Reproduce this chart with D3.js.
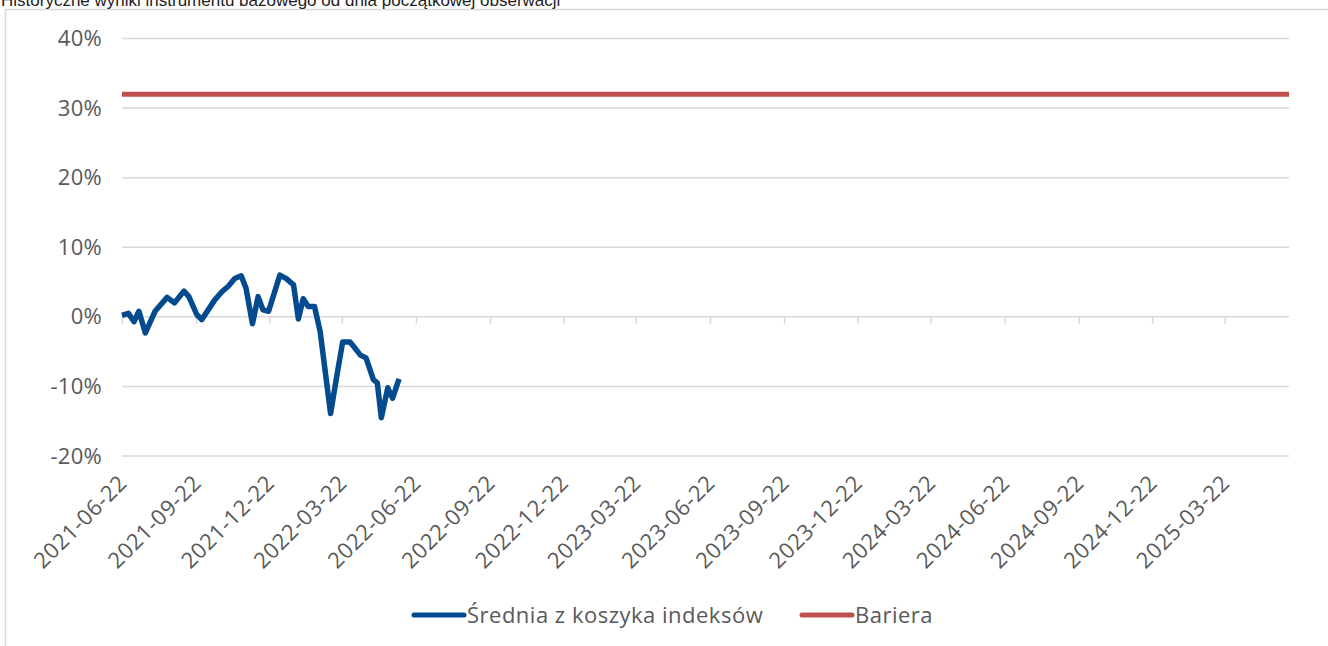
<!DOCTYPE html>
<html>
<head>
<meta charset="utf-8">
<script src="https://cdn.jsdelivr.net/npm/d3@7"></script>
<style>
  body { margin: 0; background: #fff; }
  svg { display: block; }
</style>
</head>
<body>
<div id="chart"></div>
<script>
// chart data
var title = "Historyczne wyniki instrumentu bazowego od dnia początkowej obserwacji";

var basketDates = [
  "2021-06-22", "2021-06-30", "2021-07-07", "2021-07-13", "2021-07-21", "2021-08-02",
  "2021-08-17", "2021-08-26", "2021-09-07", "2021-09-13", "2021-09-23", "2021-09-29",
  "2021-10-15", "2021-10-24", "2021-11-01", "2021-11-09", "2021-11-17", "2021-11-23",
  "2021-12-01", "2021-12-08", "2021-12-14", "2021-12-21", "2022-01-04", "2022-01-12",
  "2022-01-21", "2022-01-27", "2022-02-02", "2022-02-08", "2022-02-16", "2022-02-23",
  "2022-03-08", "2022-03-16", "2022-03-23", "2022-04-01", "2022-04-06", "2022-04-14",
  "2022-04-21", "2022-04-30", "2022-05-05", "2022-05-10", "2022-05-18", "2022-05-24",
  "2022-06-01"
];
var basketValues = [
  0.2, 0.5, -0.7, 0.8, -2.3, 0.8,
  2.8, 2.0, 3.7, 2.9, 0.3, -0.4,
  2.4, 3.6, 4.4, 5.5, 5.9, 4.1,
  -1.0, 2.9, 1.0, 0.8, 6.0, 5.5,
  4.6, -0.3, 2.6, 1.5, 1.5, -2.1,
  -13.9, -8.3, -3.6, -3.6, -4.3, -5.5,
  -5.9, -9.0, -9.5, -14.5, -10.2, -11.7,
  -8.9
];

var barrierDates = ["2021-06-22", "2025-06-10"];
var barrierValues = [32, 32];

var tickDates = [
  "2021-06-22", "2021-09-22", "2021-12-22", "2022-03-22", "2022-06-22", "2022-09-22",
  "2022-12-22", "2023-03-22", "2023-06-22", "2023-09-22", "2023-12-22", "2024-03-22",
  "2024-06-22", "2024-09-22", "2024-12-22", "2025-03-22"
];
var yTicks = [-20, -10, 0, 10, 20, 30, 40];

var seriesNames = ["Średnia z koszyka indeksów", "Bariera"];
var seriesColors = ["#034a8f", "#c0504d"];

var width = 1328, height = 646;
var font = "'Open Sans', sans-serif";
var textColor = "#595959";
var gridColor = "#d9d9d9";

var parse = d3.utcParse("%Y-%m-%d");
var fmt = d3.utcFormat("%Y-%m-%d");

var basket = basketDates.map(function (d, i) { return { date: parse(d), value: basketValues[i] }; });
var barrier = barrierDates.map(function (d, i) { return { date: parse(d), value: barrierValues[i] }; });

var svg = d3.select("#chart").append("svg")
  .attr("width", width)
  .attr("height", height);

// outer frame (runs off the right and bottom)
svg.append("rect")
  .attr("x", 5.5).attr("y", 9.5)
  .attr("width", width).attr("height", height)
  .attr("fill", "none")
  .attr("stroke", gridColor)
  .attr("stroke-width", 1.5);

// title, cut off at the top like the source
svg.append("text")
  .attr("x", 1).attr("y", 6)
  .style("font-family", "'Liberation Sans Narrow', 'Arial Narrow', sans-serif")
  .style("font-size", "17px")
  .style("fill", "#222")
  .text(title);

var x = d3.scaleUtc()
  .domain([parse(barrierDates[0]), parse(barrierDates[1])])
  .range([122, 1289]);

var y = d3.scaleLinear()
  .domain([-20, 40])
  .range([456, 38.5]);

// gridlines
svg.append("g")
  .selectAll("line")
  .data(yTicks)
  .enter()
  .append("line")
  .attr("x1", x.range()[0])
  .attr("x2", x.range()[1])
  .attr("y1", function (d) { return y(d); })
  .attr("y2", function (d) { return y(d); })
  .attr("stroke", gridColor)
  .attr("stroke-width", 1.5);

// y labels
var yAxis = svg.append("g")
  .attr("transform", "translate(102,0)")
  .call(d3.axisLeft(y).tickValues(yTicks).tickSize(0).tickPadding(0)
    .tickFormat(function (d) { return d + "%"; }));
yAxis.select(".domain").remove();
yAxis.selectAll("text")
  .style("font-family", font)
  .style("font-size", "22px")
  .style("letter-spacing", "0.3px")
  .style("fill", textColor);

// tick marks on the 0% line
var xAxis = svg.append("g")
  .attr("transform", "translate(0," + y(0) + ")")
  .call(d3.axisBottom(x).tickValues(tickDates.map(parse)).tickSize(7).tickFormat(""));
xAxis.select(".domain").remove();
xAxis.selectAll("line").attr("stroke", gridColor).attr("stroke-width", 1.5);

// x labels at the bottom, rotated
svg.append("g")
  .selectAll("text")
  .data(tickDates.map(parse))
  .enter()
  .append("text")
  .attr("transform", function (d) { return "translate(" + (x(d) + 1) + ",479) rotate(-45)"; })
  .attr("text-anchor", "end")
  .attr("dy", "0.35em")
  .style("font-family", font)
  .style("font-size", "22px")
  .style("letter-spacing", "0.6px")
  .style("fill", textColor)
  .text(function (d) { return fmt(d); });

var line = d3.line()
  .x(function (d) { return x(d.date); })
  .y(function (d) { return y(d.value); });

svg.append("path")
  .datum(barrier)
  .attr("d", line)
  .attr("fill", "none")
  .attr("stroke", seriesColors[1])
  .attr("stroke-width", 5);

svg.append("path")
  .datum(basket)
  .attr("d", line)
  .attr("fill", "none")
  .attr("stroke", seriesColors[0])
  .attr("stroke-width", 5.5)
  .attr("stroke-linejoin", "round");

// legend
var legendItems = [
  { name: seriesNames[0], color: seriesColors[0], x: 414 },
  { name: seriesNames[1], color: seriesColors[1], x: 802 }
];
var legend = svg.append("g")
  .selectAll("g")
  .data(legendItems)
  .enter()
  .append("g")
  .attr("transform", function (d) { return "translate(" + d.x + ",615)"; });
legend.append("line")
  .attr("x1", 0).attr("x2", 50)
  .attr("stroke", function (d) { return d.color; })
  .attr("stroke-width", 5)
  .attr("stroke-linecap", "round");
legend.append("text")
  .attr("x", 53)
  .attr("dy", "0.35em")
  .style("font-family", font)
  .style("font-size", "22px")
  .style("letter-spacing", "0.5px")
  .style("fill", textColor)
  .text(function (d) { return d.name; });
</script>
</body>
</html>
